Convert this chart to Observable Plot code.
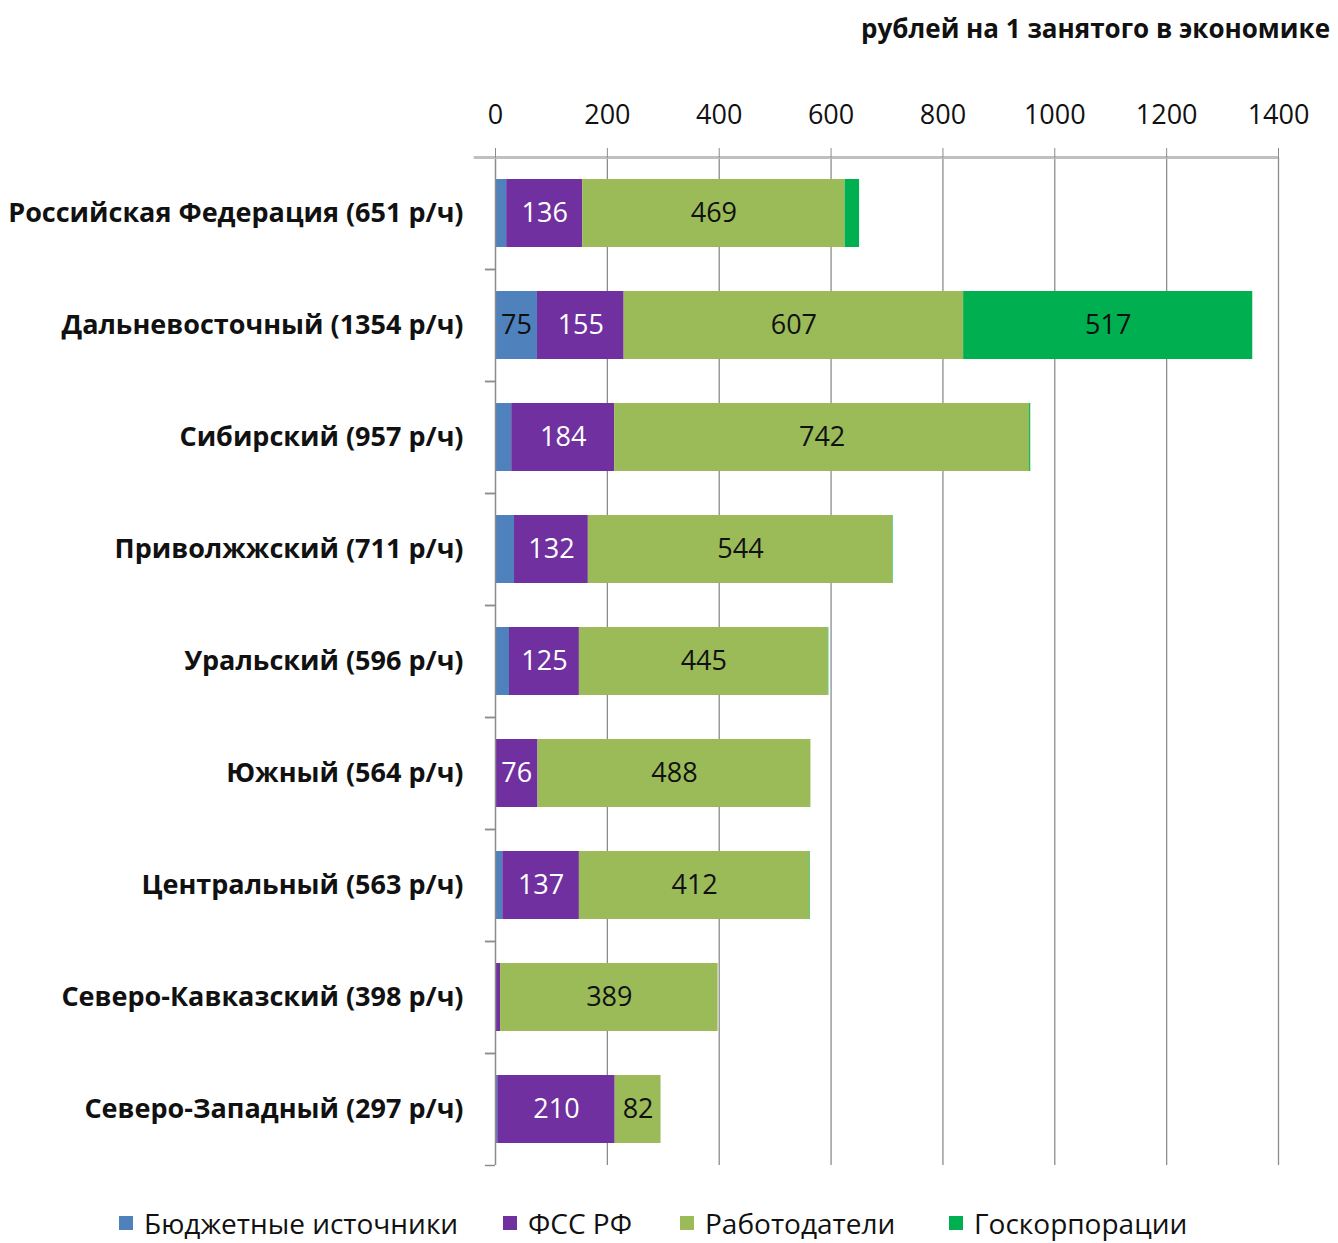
<!DOCTYPE html>
<html>
<head>
<meta charset="utf-8">
<script src="https://cdn.jsdelivr.net/npm/d3@7"></script>
<script src="https://cdn.jsdelivr.net/npm/@observablehq/plot@0.6"></script>
<style>
  html, body { margin: 0; padding: 0; background: #fff; }
  body { width: 1338px; height: 1243px; overflow: hidden; font-family: "Open Sans", sans-serif; }
  #title { height: 52px; line-height: 56px; text-align: right; padding-right: 8px; font-weight: bold; font-size: 26px; color: #111; box-sizing: border-box; }
  #legend { position: relative; height: 51px; font-size: 28px; color: #111; }
  .item { position: absolute; top: 16px; height: 30px; line-height: 30px; display: flex; align-items: center; white-space: nowrap; }
  .sw { width: 14px; height: 14px; margin-right: 11px; }
</style>
</head>
<body>
<div id="title"></div>
<div id="chart"></div>
<div id="legend"></div>
<script>
const titleText = "рублей на 1 занятого в экономике";
const regions = [
  "Российская Федерация (651 р/ч)",
  "Дальневосточный (1354 р/ч)",
  "Сибирский (957 р/ч)",
  "Приволжжский (711 р/ч)",
  "Уральский (596 р/ч)",
  "Южный (564 р/ч)",
  "Центральный (563 р/ч)",
  "Северо-Кавказский (398 р/ч)",
  "Северо-Западный (297 р/ч)"
];
const seriesNames = ["Бюджетные источники", "ФСС РФ", "Работодатели", "Госкорпорации"];
const seriesColors = ["#4F81BD", "#7030A0", "#9BBB59", "#00B050"];
const budget   = [20, 75, 29, 34, 25, 0, 13, 1, 4];
const fss      = [136, 155, 184, 132, 125, 76, 137, 8, 210];
const employer = [469, 607, 742, 544, 445, 488, 412, 389, 82];
const goscorp  = [26, 517, 2, 1, 1, 0, 1, 0, 0];
const xTicks = [0, 200, 400, 600, 800, 1000, 1200, 1400];
const labelMin = 50;

document.getElementById("title").textContent = titleText;

const seriesValues = [budget, fss, employer, goscorp];
const data = [];
regions.forEach((r, i) => {
  seriesNames.forEach((s, j) => {
    data.push({region: r, series: s, value: seriesValues[j][i]});
  });
});

const color = {domain: seriesNames, range: seriesColors};
const labelFill = d => d.series === "ФСС РФ" ? "#fff" : "#111";

const chart = Plot.plot({
  width: 1338,
  height: 1140,
  marginTop: 105,
  marginBottom: 27,
  marginLeft: 495,
  marginRight: 60,
  style: {fontFamily: "Open Sans, sans-serif", background: "#fff"},
  x: {domain: [0, 1400], ticks: xTicks},
  y: {domain: regions, paddingInner: 0.39, paddingOuter: 0.195},
  color,
  marks: [
    Plot.gridX(xTicks.filter(t => t > 0), {stroke: "#8c8c8c", strokeOpacity: 1, strokeWidth: 1.3}),
    Plot.barX(data, Plot.stackX({x: "value", y: "region", fill: "series", order: seriesNames})),
    Plot.text(data, Plot.stackX({
      x: "value", y: "region", z: "series", order: seriesNames,
      text: d => d.value >= labelMin ? String(d.value) : "",
      fill: labelFill, fontSize: 27
    })),
    Plot.ruleX([0], {stroke: "#8c8c8c", strokeWidth: 1.5}),
    Plot.ruleY(regions, {y: d => d, x1: -38, x2: 1400, dy: -56, stroke: "#c0c0c0", strokeWidth: 3, filter: (d, i) => i === 0}),
    Plot.ruleY(regions, {y: d => d, x1: -18, x2: 0, dy: 56, stroke: "#8c8c8c", strokeWidth: 1.5}),
    Plot.ruleY(regions, {y: d => d, x1: -18, x2: 0, dy: -56, stroke: "#8c8c8c", strokeWidth: 1.5, filter: (d, i) => i > 0}),
    Plot.axisX({anchor: "top", ticks: xTicks, tickFormat: d => String(d), tickSize: 10, tickPadding: 24, fontSize: 27, stroke: "#8c8c8c", fill: "#111", label: null}),
    Plot.axisY({anchor: "left", tickSize: 0, tickPadding: 32, fontSize: 27, fontWeight: "bold", fill: "#111", label: null})
  ]
});
document.getElementById("chart").appendChild(chart);

const legendLeft = [119, 503, 680, 949];
const legend = document.getElementById("legend");
seriesNames.forEach((s, j) => {
  const it = document.createElement("div");
  it.className = "item";
  it.style.left = legendLeft[j] + "px";
  const sw = document.createElement("div");
  sw.className = "sw";
  sw.style.background = seriesColors[j];
  const tx = document.createElement("span");
  tx.textContent = s;
  it.appendChild(sw);
  it.appendChild(tx);
  legend.appendChild(it);
});
</script>
</body>
</html>
